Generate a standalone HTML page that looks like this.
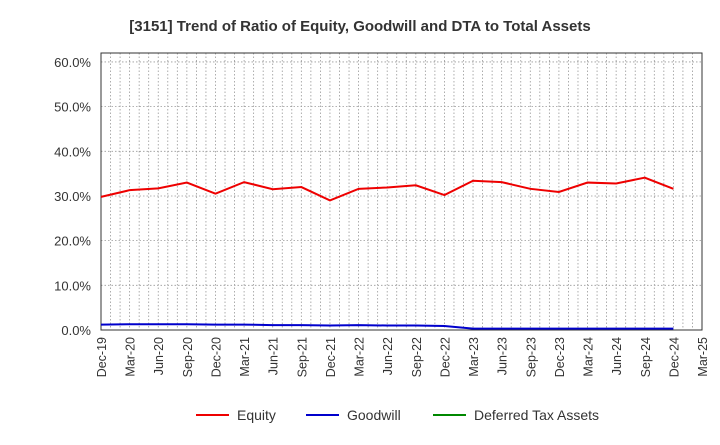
<!DOCTYPE html>
<html><head><meta charset="utf-8"><style>
body{margin:0;background:#fff;font-family:"Liberation Sans",sans-serif}
</style></head><body>
<svg id="c" width="720" height="440" xmlns="http://www.w3.org/2000/svg"></svg>
<script>
const categories=["Dec-19","Mar-20","Jun-20","Sep-20","Dec-20","Mar-21","Jun-21","Sep-21","Dec-21","Mar-22","Jun-22","Sep-22","Dec-22","Mar-23","Jun-23","Sep-23","Dec-23","Mar-24","Jun-24","Sep-24","Dec-24","Mar-25"];
const equity=[29.8,31.3,31.7,33.0,30.5,33.1,31.5,32.0,29.0,31.6,31.9,32.4,30.2,33.4,33.1,31.6,30.9,33.0,32.8,34.1,31.6];
const goodwill=[1.2,1.3,1.3,1.3,1.2,1.2,1.1,1.1,1.0,1.1,1.0,1.0,0.9,0.3,0.3,0.3,0.3,0.3,0.3,0.3,0.3];
const dta=[];
const yTicks=[0,10,20,30,40,50,60];
const ns="http://www.w3.org/2000/svg",svg=document.getElementById('c');
const L=101,R=702,T=53,B=330,yMax=62;
const x=i=>L+i*(R-L)/(categories.length-1);
const y=v=>B-v/yMax*(B-T);
function el(t,a,txt){const e=document.createElementNS(ns,t);for(const k in a)e.setAttribute(k,a[k]);if(txt!=null)e.textContent=txt;svg.appendChild(e);return e;}
let e=el('text',{x:360,y:31,'text-anchor':'middle','font-size':15,'font-weight':'bold',fill:'#333'},'[3151]  Trend of Ratio of Equity, Goodwill and DTA to Total Assets');


for(let m=1;m<(categories.length-1)*3;m++){const xx=L+m*(R-L)/((categories.length-1)*3);
e=el('line',{x1:xx,x2:xx,y1:T,y2:B,stroke:'#999','stroke-width':0.8,'stroke-dasharray':'1.5,2'});

}
yTicks.forEach(t=>{
e=el('line',{x1:L,x2:R,y1:y(t),y2:y(t),stroke:'#999','stroke-width':0.8,'stroke-dasharray':'1.5,2'});


e=el('text',{x:91,y:y(t)+5,'text-anchor':'end','font-size':13,fill:'#333'},t.toFixed(1)+'%');

});
e=el('rect',{x:L,y:T,width:R-L,height:B-T,fill:'none',stroke:'#333','stroke-width':1});


categories.forEach((c,i)=>{
e=el('text',{transform:`translate(${x(i)+5},${B+7}) rotate(-90)`,'text-anchor':'end','font-size':12.5,fill:'#333'},c);

});
function series(d,col,name){if(!d.length)return;
e=el('polyline',{points:d.map((v,i)=>x(i)+','+y(v)).join(' '),fill:'none',stroke:col,'stroke-width':2});

}
series(equity,'#e00','equity-line');
series(goodwill,'#00c','goodwill-line');
series(dta,'#080','dta-line');
[[196,'#e00','Equity','legend-equity'],[306,'#00c','Goodwill','legend-goodwill'],[433,'#080','Deferred Tax Assets','legend-dta']].forEach(([lx,col,t,n])=>{
e=el('line',{x1:lx,x2:lx+33,y1:415,y2:415,stroke:col,'stroke-width':2});


e=el('text',{x:lx+41,y:420,'font-size':14,fill:'#333'},t);

});
</script>
</body></html>
